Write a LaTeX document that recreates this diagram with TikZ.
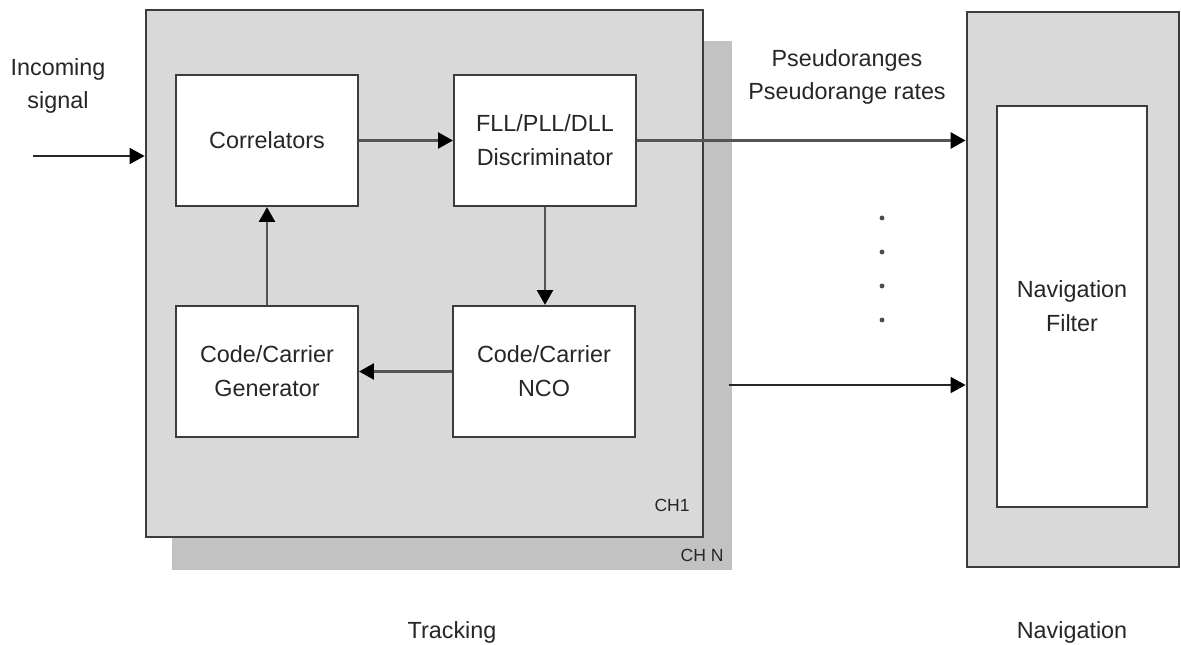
\documentclass[tikz,border=0pt]{standalone}
\usepackage{fontspec}
\setmainfont{Liberation Sans}
\usetikzlibrary{arrows.meta}
\definecolor{boxgray}{HTML}{D9D9D9}
\definecolor{shadowgray}{HTML}{C2C2C2}
\definecolor{edgegray}{HTML}{3C3C3C}
\definecolor{linegray}{HTML}{555555}
\begin{document}
\begin{tikzpicture}[x=0.02cm,y=-0.02cm,
  every node/.style={font=\fontsize{13.3}{19.3}\selectfont, text=black!85},
  blk/.style={draw=edgegray, fill=white, line width=1.2pt, align=center,
    minimum width=3.64cm, minimum height=2.62cm, inner sep=0pt},
  panel/.style={draw=edgegray, fill=boxgray, line width=1.6pt, inner sep=0pt},
  tip/.style={-{Triangle[length=8.5pt,width=9pt,color=black]}},
  flow/.style={tip, draw=linegray, line width=1.7pt},
  thin/.style={tip, draw=black!85, line width=1.2pt},
  lbl/.style={align=center, inner sep=0pt}]
\useasboundingbox (0,0) rectangle (1181,645);
% tracking channels
\node[fill=shadowgray, minimum width=11.2cm, minimum height=10.58cm, inner sep=0pt] (chn) at (452,305.5) {};
\node[panel, minimum width=11.14cm, minimum height=10.54cm] (ch1) at (424.5,273.5) {};
\node[lbl, anchor=east] (ch1lbl) at (690,505) {\fontsize{10}{12}\selectfont CH1};
\node[lbl, anchor=east] (chnlbl) at (724,555) {\fontsize{10}{12}\selectfont CH N};
% blocks
\node[blk] (corr) at (267,140.5) {Correlators};
\node[blk] (disc) at (545,140.5) {FLL/PLL/DLL\\Discriminator};
\node[blk] (gen) at (267,371.5) {Code/Carrier\\Generator};
\node[blk] (nco) at (544,371.5) {Code/Carrier\\NCO};
% navigation
\node[panel, minimum width=4.24cm, minimum height=11.1cm] (nav) at (1073,289.5) {};
\node[blk, minimum width=3.0cm, minimum height=8.02cm] (filt) at (1072,306.5) {Navigation\\Filter};
% labels
\node[lbl] (inc) at (58,86) {Incoming\\signal};
\node[lbl] (pr) at (847,77) {Pseudoranges\\Pseudorange rates};
\node[lbl] (trk) at (452,632) {Tracking};
\node[lbl] (navlbl) at (1072,632) {Navigation};
% dots
\foreach \yy [count=\i] in {218,252,286,320}
  \fill[black!70] (882,\yy) circle (1.4pt);
% connectors
\coordinate (inS) at (33,156);
\coordinate (outS) at (729,385);
\draw[thin] (inS) -- (inS -| ch1.west);
\draw[flow] (corr.east) -- (disc.west);
\draw[flow] (disc.east) -- (disc.east -| nav.west);
\draw[flow] (disc.south) -- (nco.north -| disc.south);
\draw[flow] (nco.west) -- (gen.east);
\draw[flow] (gen.north) -- (corr.south);
\draw[thin] (outS) -- (outS -| nav.west);
\end{tikzpicture}
\end{document}
